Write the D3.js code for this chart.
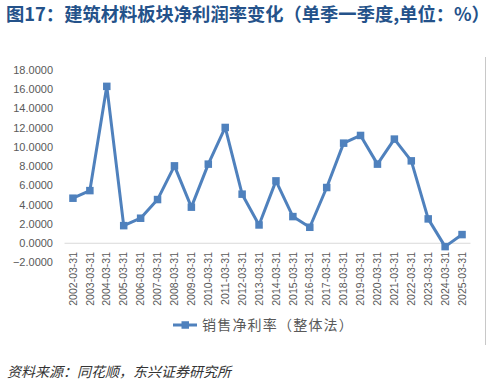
<!DOCTYPE html>
<html>
<head>
<meta charset="utf-8">
<script src="https://cdn.jsdelivr.net/npm/d3@7"></script>
<style>
  body { margin: 0; background: #fff; }
  svg { display: block; font-family: "Liberation Sans", Arial, sans-serif; }
</style>
</head>
<body>
<div id="chart"></div>
<script>
// data
const years = ["2002-03-31", "2003-03-31", "2004-03-31", "2005-03-31", "2006-03-31", "2007-03-31",
  "2008-03-31", "2009-03-31", "2010-03-31", "2011-03-31", "2012-03-31", "2013-03-31",
  "2014-03-31", "2015-03-31", "2016-03-31", "2017-03-31", "2018-03-31", "2019-03-31",
  "2020-03-31", "2021-03-31", "2022-03-31", "2023-03-31", "2024-03-31", "2025-03-31"];
const margin = [4.68, 5.47, 16.3, 1.83, 2.6, 4.54, 8.04, 3.75, 8.22, 12.03, 5.1, 1.9,
  6.48, 2.77, 1.66, 5.79, 10.4, 11.2, 8.22, 10.82, 8.56, 2.53, -0.35, 0.9];
const yTicks = [-2, 0, 2, 4, 6, 8, 10, 12, 14, 16, 18];

const title = "图17：建筑材料板块净利润率变化（单季一季度,单位：%）";
const seriesName = "销售净利率（整体法）";
const source = "资料来源：同花顺，东兴证券研究所";

const width = 491;
const height = 384;
const blue = "#4f81bd";
const gray = "#595959";
const cjk = '"Noto Sans CJK SC", sans-serif';

const svg = d3.select("#chart")
  .append("svg")
  .attr("width", width)
  .attr("height", height);

// title
svg.append("text")
  .attr("x", 6)
  .attr("y", 21)
  .style("font-family", cjk)
  .style("font-size", "18.3px")
  .style("font-weight", "bold")
  .style("fill", "#24528a")
  .text(title);

const x = d3.scalePoint()
  .domain(years)
  .range([64.5, 470.5])
  .padding(0.5);

const y = d3.scaleLinear()
  .domain([-2, 18])
  .range([262.5, 70]);

// y tick labels
svg.append("g")
  .selectAll("text")
  .data(yTicks)
  .enter()
  .append("text")
  .attr("x", 53)
  .attr("y", d => y(d))
  .attr("dy", "0.35em")
  .attr("text-anchor", "end")
  .style("font-size", "11px")
  .style("fill", gray)
  .text(d => d3.format(".4f")(d));

// zero line
svg.append("line")
  .attr("x1", 64.5)
  .attr("x2", 470.5)
  .attr("y1", y(0))
  .attr("y2", y(0))
  .attr("stroke", "#d9d9d9")
  .attr("stroke-width", 1);

// x labels, vertical
svg.append("g")
  .selectAll("text")
  .data(years)
  .enter()
  .append("text")
  .attr("transform", d => `translate(${x(d)},252) rotate(-90)`)
  .attr("dy", "0.35em")
  .attr("text-anchor", "end")
  .style("font-size", "10.5px")
  .style("fill", gray)
  .text(d => d);

// line + markers
const line = d3.line()
  .x((d, i) => x(years[i]))
  .y(d => y(d));

svg.append("path")
  .datum(margin)
  .attr("d", line)
  .attr("fill", "none")
  .attr("stroke", blue)
  .attr("stroke-width", 3)
  .attr("stroke-linejoin", "round");

svg.append("g")
  .selectAll("rect")
  .data(margin)
  .enter()
  .append("rect")
  .attr("x", (d, i) => x(years[i]) - 3.75)
  .attr("y", d => y(d) - 3.75)
  .attr("width", 7.5)
  .attr("height", 7.5)
  .attr("fill", blue);

// legend
const legend = svg.append("g").attr("transform", "translate(0,325)");
legend.append("line")
  .attr("x1", 173)
  .attr("x2", 197)
  .attr("stroke", blue)
  .attr("stroke-width", 3);
legend.append("rect")
  .attr("x", 181.5)
  .attr("y", -3.75)
  .attr("width", 7.5)
  .attr("height", 7.5)
  .attr("fill", blue);
legend.append("text")
  .attr("x", 202)
  .attr("dy", "0.36em")
  .style("font-family", cjk)
  .style("font-size", "14px")
  .style("letter-spacing", "1.2px")
  .style("fill", gray)
  .text(seriesName);

// right edge of the chart frame
svg.append("line")
  .attr("x1", 485.5)
  .attr("x2", 485.5)
  .attr("y1", 57)
  .attr("y2", 345)
  .attr("stroke", "#c8c8c8")
  .attr("stroke-width", 1);

// source note
svg.append("text")
  .attr("x", 7)
  .attr("y", 377)
  .style("font-family", cjk)
  .style("font-size", "14px")
  .style("font-style", "italic")
  .style("fill", "#333")
  .text(source);
</script>
</body>
</html>
